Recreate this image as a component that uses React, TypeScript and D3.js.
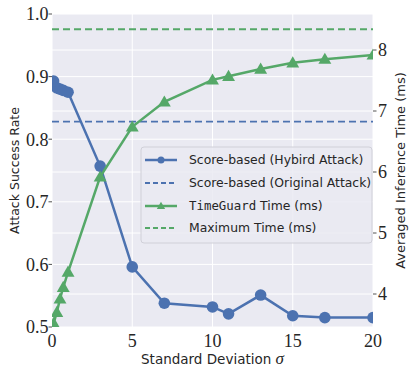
import React from "react";
import * as d3 from "d3";

const sigmaValues = [0.1, 0.3, 0.5, 0.7, 1.0, 3, 5, 7, 10, 11, 13, 15, 17, 20];
const hybridASR = [0.893, 0.882, 0.880, 0.878, 0.875, 0.757, 0.596, 0.538, 0.532, 0.521, 0.551, 0.518, 0.515, 0.515];
const originalASR = 0.828;
const timeGuardMs = [3.52, 3.70, 3.92, 4.11, 4.36, 5.92, 6.74, 7.15, 7.51, 7.57, 7.69, 7.79, 7.85, 7.92];
const maxTimeMs = 8.34;
const xTicks = [0, 5, 10, 15, 20];
const leftTicks = [0.5, 0.6, 0.7, 0.8, 0.9, 1.0];
const rightTicks = [4, 5, 6, 7, 8];
const legendLabels = [
  "Score-based (Hybird Attack)",
  "Score-based (Original Attack)",
  "TimeGuard Time (ms)",
  "Maximum Time (ms)",
];

const BLUE = "#4C72B0";
const GREEN = "#55A868";
const BG = "#EAEAF2";
const TXT = "#262626";

export default function App() {
  const W = 415, H = 374;
  const L = 52, R = 373, T = 14, B = 327;
  const x = d3.scaleLinear().domain([0, 20]).range([L, R]);
  const yL = d3.scaleLinear().domain([0.5, 1.0]).range([B, T]);
  const yR = d3.scaleLinear().domain([4, 8]).range([294, 50]);
  const yRdom = d3.scaleLinear().domain([yR.invert(B), yR.invert(T)]).range([B, T]);

  const hybridLine = d3.line<number>().x((_, i) => x(sigmaValues[i])).y((d) => yL(d))(hybridASR) || "";
  const timeLine = d3.line<number>().x((_, i) => x(sigmaValues[i])).y((d) => yRdom(d))(timeGuardMs) || "";
  const tri = d3.symbol().type(d3.symbolTriangle).size(72)() || "";

  const serif = "'Liberation Serif', 'Times New Roman', serif";
  const sans = "'DejaVu Sans', sans-serif";
  const mono = "'DejaVu Sans Mono', monospace";

  const legX = 141, legY = 147, legW = 231, legH = 96;
  const rowY = [160, 183, 206, 228];

  return (
    <svg width={W} height={H} style={{ position: "absolute", left: 0, top: 0 }}>
      <defs>
        <clipPath id="plotclip">
          <rect x={L} y={T} width={R - L} height={B - T} />
        </clipPath>
      </defs>
      <rect x={L} y={T} width={R - L} height={B - T} fill={BG} />
      {leftTicks.map((t) => (
        <line key={"gl" + t} x1={L} x2={R} y1={yL(t)} y2={yL(t)} stroke="white" strokeWidth={1} />
      ))}
      {rightTicks.map((t) => (
        <line key={"gr" + t} x1={L} x2={R} y1={yRdom(t)} y2={yRdom(t)} stroke="white" strokeWidth={1} />
      ))}
      {xTicks.map((t) => (
        <line key={"gx" + t} x1={x(t)} x2={x(t)} y1={T} y2={B} stroke="white" strokeWidth={1} />
      ))}
      <g clipPath="url(#plotclip)">
        <line x1={L} x2={R} y1={yL(originalASR)} y2={yL(originalASR)} stroke={BLUE} strokeWidth={1.8} strokeDasharray="7,4" />
        <line x1={L} x2={R} y1={yRdom(maxTimeMs)} y2={yRdom(maxTimeMs)} stroke={GREEN} strokeWidth={1.8} strokeDasharray="7,4" />
        <path d={hybridLine} fill="none" stroke={BLUE} strokeWidth={2.5} />
        {hybridASR.map((v, i) => (
          <circle key={"c" + i} cx={x(sigmaValues[i])} cy={yL(v)} r={5.8} fill={BLUE} />
        ))}
        <path d={timeLine} fill="none" stroke={GREEN} strokeWidth={2.5} />
        {timeGuardMs.map((v, i) => (
          <path key={"t" + i} d={tri} transform={`translate(${x(sigmaValues[i])},${yRdom(v) + 1})`} fill={GREEN} />
        ))}
      </g>
      {leftTicks.map((t) => (
        <g key={"lt" + t}>
          <line x1={L - 3.5} x2={L} y1={yL(t)} y2={yL(t)} stroke={TXT} strokeWidth={0.8} />
          <text x={L - 3.5} y={yL(t)} dy="0.35em" textAnchor="end" fontFamily={serif} fontSize={18} fill={TXT}>
            {t.toFixed(1)}
          </text>
        </g>
      ))}
      {rightTicks.map((t) => (
        <g key={"rt" + t}>
          <line x1={R} x2={R + 3.5} y1={yRdom(t)} y2={yRdom(t)} stroke={TXT} strokeWidth={0.8} />
          <text x={R + 5} y={yRdom(t)} dy="0.35em" textAnchor="start" fontFamily={serif} fontSize={18} fill={TXT}>
            {t}
          </text>
        </g>
      ))}
      {xTicks.map((t) => (
        <text key={"xt" + t} x={x(t)} y={347} textAnchor="middle" fontFamily={serif} fontSize={18} fill={TXT}>
          {t}
        </text>
      ))}
      <text x={(L + R) / 2} y={364} textAnchor="middle" fontFamily={sans} fontSize={13.5} fill={TXT}>
        Standard Deviation <tspan fontFamily={serif} fontStyle="italic" fontSize={17}>σ</tspan>
      </text>
      <text transform={`translate(19,${(T + B) / 2}) rotate(-90)`} textAnchor="middle" fontFamily={sans} fontSize={12.5} fill={TXT}>
        Attack Success Rate
      </text>
      <text transform={`translate(405,${(T + B) / 2}) rotate(-90)`} textAnchor="middle" fontFamily={sans} fontSize={13} fill={TXT}>
        Averaged Inference Time (ms)
      </text>
      <rect x={legX} y={legY} width={legW} height={legH} rx={3} fill={BG} fillOpacity={0.85} stroke="#d0d0d8" strokeWidth={1} />
      <line x1={145} x2={177} y1={rowY[0]} y2={rowY[0]} stroke={BLUE} strokeWidth={2.5} />
      <circle cx={161} cy={rowY[0]} r={3.5} fill={BLUE} />
      <line x1={145} x2={177} y1={rowY[1]} y2={rowY[1]} stroke={BLUE} strokeWidth={1.8} strokeDasharray="5,3" />
      <line x1={145} x2={177} y1={rowY[2]} y2={rowY[2]} stroke={GREEN} strokeWidth={2.5} />
      <path d={d3.symbol().type(d3.symbolTriangle).size(30)() || ""} transform={`translate(161,${rowY[2] + 0.5})`} fill={GREEN} />
      <line x1={145} x2={177} y1={rowY[3]} y2={rowY[3]} stroke={GREEN} strokeWidth={1.8} strokeDasharray="5,3" />
      {legendLabels.map((lbl, i) => (
        <text key={"lg" + i} x={189} y={rowY[i]} dy="0.35em" fontFamily={sans} fontSize={12.4} fill={TXT}>
          {i === 2 ? (
            <>
              <tspan fontFamily={mono}>TimeGuard</tspan> Time (ms)
            </>
          ) : (
            lbl
          )}
        </text>
      ))}
    </svg>
  );
}
